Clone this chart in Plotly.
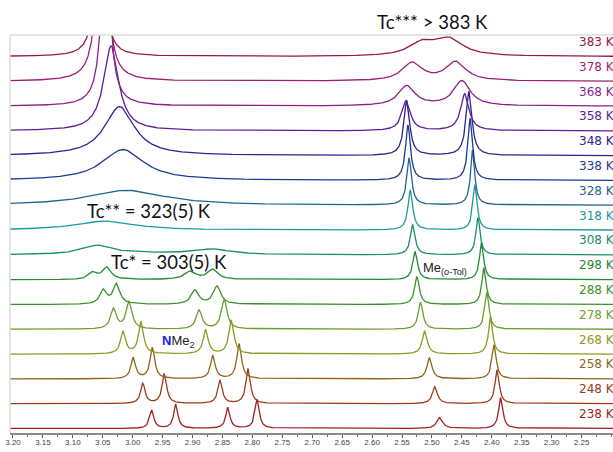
import numpy as np
import plotly.graph_objects as go

# ---------------- data ----------------
temperatures = [238, 248, 258, 268, 278, 288, 298, 308, 318, 328, 338, 348, 358, 368, 378, 383]
temp_labels = [f"{t} K" for t in temperatures]

# NMe2 region: peak centres (ppm), heights (a.u.), half-widths (ppm)
nme2_centers = [
    [2.968, 2.928, 2.841, 2.792],
    [2.983, 2.947, 2.854, 2.807],
    [2.999, 2.967, 2.866, 2.822],
    [3.016, 2.986, 2.878, 2.835],
    [3.032, 3.006, 2.889, 2.847],
    [3.049, 3.027, 2.896, 2.859],
    [3.066, 3.043, 2.904, 2.866],
    [3.058, 2.954, 2.866],
    [3.046],
    [3.010],
    [3.016],
    [3.022],
    [3.036],
    [3.045],
    [3.051],
    [3.055],
]
nme2_heights = [
    [18, 24, 21, 29],
    [20, 30, 23, 35],
    [21, 31, 23, 35],
    [22, 32, 24, 34],
    [20, 27, 19, 29],
    [14, 20, 14, 18],
    [7, 12, 8, 10],
    [9, 1.5, 5],
    [9],
    [15],
    [31],
    [49],
    [85],
    [176],
    [224],
    [200],
]
nme2_widths = [
    [0.0042, 0.0042, 0.0042, 0.0042],
    [0.0045, 0.0045, 0.0045, 0.0045],
    [0.0047, 0.0047, 0.0047, 0.0047],
    [0.0050, 0.0050, 0.0050, 0.0050],
    [0.0058, 0.0058, 0.0058, 0.0058],
    [0.0067, 0.0067, 0.0075, 0.0075],
    [0.0084, 0.0084, 0.0117, 0.0100],
    [0.0301, 0.1003, 0.0334],
    [0.0585],
    [0.0752],
    [0.0418],
    [0.0301],
    [0.0150],
    [0.0084],
    [0.0084],
    [0.0070],
]

# Me(o-Tol) region
me_centers = [
    [2.487, 2.385], [2.495, 2.391], [2.504, 2.396], [2.512, 2.402],
    [2.519, 2.408], [2.525, 2.413], [2.528, 2.417], [2.532, 2.423],
    [2.536, 2.428], [2.538, 2.432], [2.540, 2.436], [2.542, 2.438],
    [2.543, 2.445], [2.542, 2.450], [2.533, 2.460], [2.515, 2.470],
]
me_heights = [
    [11, 31], [17, 34], [21, 34], [23, 37],
    [27, 37], [28, 37], [28, 37], [30, 37],
    [40, 45], [47, 55], [55, 62], [55, 64],
    [30, 37], [20, 25], [18, 19], [13, 16],
]
me_widths = [
    [0.0058, 0.0042], [0.0050, 0.0042], [0.0050, 0.0042], [0.0050, 0.0042],
    [0.0047, 0.0042], [0.0047, 0.0042], [0.0047, 0.0042], [0.0047, 0.0042],
    [0.0047, 0.0042], [0.0047, 0.0042], [0.0050, 0.0047], [0.0058, 0.0058],
    [0.0084, 0.0084], [0.0167, 0.0167], [0.0200, 0.0200], [0.0267, 0.0267],
]

colors = [
    "#a31f24", "#9c3a1b", "#8e651a", "#8c9a25", "#6e9e2a", "#3c9228", "#1f8c38", "#1a8c66",
    "#1e9a9a", "#1e6690", "#1f3a8f", "#2e2290", "#5a1f96", "#8a1e8e", "#9e1f70", "#981a40",
]

tick_labels = ["3.20", "3.15", "3.10", "3.05", "3.00", "2.95", "2.90", "2.85", "2.80",
               "2.75", "2.70", "2.65", "2.60", "2.55", "2.50", "2.45", "2.40", "2.35",
               "2.30", "2.25"]
tick_values = [float(t) for t in tick_labels]

# ---------------- figure ----------------
W, H = 613, 452
ML, MR, MT, MB = 10, 0, 35, 19
PW, PH = W - ML - MR, H - MT - MB
STEP = 24.8
BASE0 = 4.5

ppm = np.arange(2.19, 3.215, 0.0004)


def lorentz_sum(centers, heights, widths):
    y = np.zeros_like(ppm)
    for c, h, w in zip(centers, heights, widths):
        y += h / (1.0 + ((ppm - c) / w) ** 2)
    return y


def px(xp):
    return (xp - ML) / PW


def py(yp):
    return (MT + PH - yp) / PH


fig = go.Figure()
for i, t in enumerate(temperatures):
    y = lorentz_sum(nme2_centers[i], nme2_heights[i], nme2_widths[i]) \
        + lorentz_sum(me_centers[i], me_heights[i], me_widths[i])
    base = BASE0 + STEP * i
    fig.add_trace(go.Scatter(x=ppm, y=y + base, mode="lines",
                             line=dict(color=colors[i], width=1.3),
                             name=temp_labels[i], showlegend=False,
                             hoverinfo="skip"))
    fig.add_annotation(xref="paper", yref="y", x=px(577), y=base + 14.5,
                       text=temp_labels[i], showarrow=False,
                       xanchor="left", yanchor="middle",
                       font=dict(family="DejaVu Sans", size=12, color=colors[i]))

big_font = dict(family="Lato", size=18.5, color="#111111")
fig.add_annotation(xref="paper", yref="paper", x=px(375), y=py(22), text="Tc*** > 383 K",
                   showarrow=False, xanchor="left", yanchor="middle", font=big_font)
fig.add_annotation(xref="paper", yref="paper", x=px(85), y=py(211), text="Tc** = 323(5) K",
                   showarrow=False, xanchor="left", yanchor="middle", font=big_font)
fig.add_annotation(xref="paper", yref="paper", x=px(109), y=py(262), text="Tc* = 303(5) K",
                   showarrow=False, xanchor="left", yanchor="middle", font=big_font)
fig.add_annotation(xref="paper", yref="paper", x=px(160), y=py(341),
                   text='<b><span style="color:#1a1aff">N</span></b>Me<sub>2</sub>',
                   showarrow=False, xanchor="left", yanchor="middle",
                   font=dict(family="Liberation Sans", size=13, color="#222222"))
fig.add_annotation(xref="paper", yref="paper", x=px(421), y=py(268),
                   text="Me<sub>(<i>o</i>-Tol)</sub>",
                   showarrow=False, xanchor="left", yanchor="middle",
                   font=dict(family="Liberation Sans", size=13, color="#222222"))
fig.add_annotation(xref="paper", yref="paper", x=px(298), y=py(450), text="f1 (ppm)",
                   showarrow=False, xanchor="left", yanchor="top",
                   font=dict(family="Liberation Sans", size=7.5, color="#444444"))

# frame lines (top and left)
fig.add_shape(type="line", xref="paper", yref="paper", x0=0, x1=1, y0=1, y1=1,
              line=dict(color="#dddddd", width=1.5))
fig.add_shape(type="line", xref="paper", yref="paper", x0=0, x1=0, y0=0, y1=1,
              line=dict(color="#dddddd", width=1.5))

fig.update_layout(
    width=W, height=H,
    margin=dict(l=ML, r=MR, t=MT, b=MB, pad=0, autoexpand=False),
    paper_bgcolor="white", plot_bgcolor="white",
    xaxis=dict(range=[3.205, 3.205 - PW / 598.5], showgrid=False, zeroline=False,
               automargin=False,
               showline=True, linecolor="#8c8c8c", linewidth=2,
               ticks="outside", ticklen=3, tickwidth=1, tickcolor="#555555",
               tickmode="array", tickvals=tick_values, ticktext=tick_labels,
               ticklabelstandoff=-3,
               tickfont=dict(family="Liberation Sans", size=8, color="#444444"),
               minor=dict(ticks="outside", ticklen=2, tickcolor="#666666",
                          tick0=3.2, dtick=0.025, showgrid=False)),
    yaxis=dict(range=[0, PH], visible=False, showgrid=False, zeroline=False,
               automargin=False),
)

fig.write_html("out.html",
               config={"displayModeBar": False},
               post_script="document.body.style.margin='0px';document.body.style.overflow='hidden';")
